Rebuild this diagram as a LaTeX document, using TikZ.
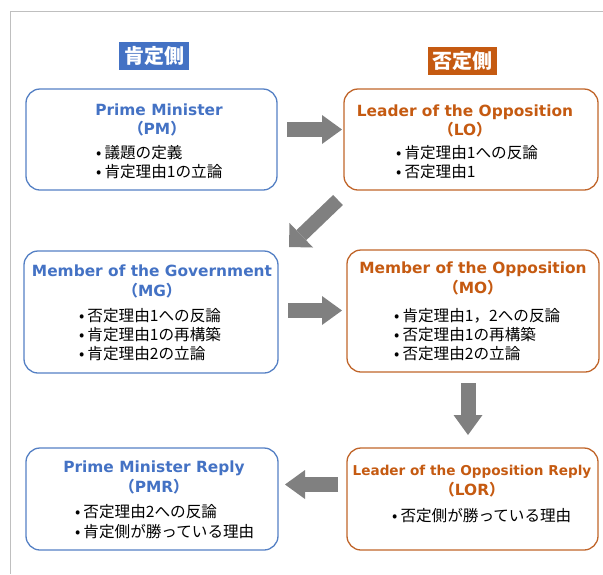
\documentclass[tikz,border=0pt]{standalone}
\usepackage{fontspec}
\setmainfont{Noto Sans CJK JP}
\newfontfamily\cjk{Noto Sans CJK JP}
\newfontfamily\ttl{DejaVu Sans}
\usetikzlibrary{arrows.meta}
\definecolor{gblue}{HTML}{4472C4}
\definecolor{gorange}{HTML}{C55A11}
\definecolor{bblue}{HTML}{5580C4}
\definecolor{borange}{HTML}{C0652A}
\definecolor{agray}{HTML}{808080}
\definecolor{fgray}{HTML}{BFBFBF}
\tikzset{
  box/.style={draw, rounded corners=14pt, line width=1.3pt, inner sep=0pt},
  bbox/.style={box, draw=bblue},
  obox/.style={box, draw=borange},
  ttlb/.style={anchor=base, inner sep=0pt, text=gblue, font=\ttl\bfseries\fontsize{15.4}{18}\selectfont},
  ttlo/.style={anchor=base, inner sep=0pt, text=gorange, font=\ttl\bfseries\fontsize{15.4}{18}\selectfont},
  itm/.style={anchor=base west, inner sep=0pt, font=\cjk\fontsize{15.6}{18}\selectfont},
  side/.style={inner sep=0pt, text=white, font=\cjk\bfseries\fontsize{20}{22}\selectfont, minimum height=28pt},
  blk/.style={agray, line width=15pt, -{Triangle[width=29pt,length=20pt,line width=0pt]}},
}
\newcommand{\bul}{•\hspace{3pt}}
\newcommand{\lp}{{\cjk （}}
\newcommand{\rp}{{\cjk ）}}
\begin{document}
\begin{tikzpicture}[x=1pt,y=-1pt]
\useasboundingbox (0,0) rectangle (603,574);
\draw[fgray, line width=1pt] (10,574) -- (10,11) -- (603,11);

% side labels
\node[side, fill=gblue, minimum width=70pt] (aff) at (154,56) {肯定側};
\node[side, fill=gorange, minimum width=69pt] (neg) at (462.5,61) {否定側};

% boxes
\node[bbox, minimum width=251pt, minimum height=101pt] (pm) at (151.5,139.5) {};
\node[obox, minimum width=254pt, minimum height=101pt] (lo) at (471,139.5) {};
\node[bbox, minimum width=254pt, minimum height=122pt] (mg) at (151,312) {};
\node[obox, minimum width=252pt, minimum height=122pt] (mo) at (473,311) {};
\node[bbox, minimum width=252pt, minimum height=102pt] (pmr) at (152,499) {};
\node[obox, minimum width=251pt, minimum height=102pt] (lor) at (472.5,499) {};

% PM
\node[ttlb] (pmt) at (159,115) {Prime Minister};
\node[ttlb] (pma) at (157,134) {\lp PM\rp};
\node[itm] (pm1) at (96,158) {\bul 議題の定義};
\node[itm] (pm2) at (96,177) {\bul 肯定理由1の立論};

% LO
\node[ttlo] (lot) at (465,116) {Leader of the Opposition};
\node[ttlo] (loa) at (465,135) {\lp LO\rp};
\node[itm] (lo1) at (396,158) {\bul 肯定理由1への反論};
\node[itm] (lo2) at (396,177) {\bul 否定理由1};

% MG
\node[ttlb] (mgt) at (152,276) {Member of the Government};
\node[ttlb] (mga) at (152,296) {\lp MG\rp};
\node[itm] (mg1) at (79,321) {\bul 否定理由1への反論};
\node[itm] (mg2) at (79,340) {\bul 肯定理由1の再構築};
\node[itm] (mg3) at (79,359) {\bul 肯定理由2の立論};

% MO
\node[ttlo] (mot) at (473,273) {Member of the Opposition};
\node[ttlo] (moa) at (473,293) {\lp MO\rp};
\node[itm] (mo1) at (394,321) {\bul 肯定理由1，2への反論};
\node[itm] (mo2) at (394,340) {\bul 否定理由1の再構築};
\node[itm] (mo3) at (394,359) {\bul 否定理由2の立論};

% PMR
\node[ttlb] (pmrt) at (154,472) {Prime Minister Reply};
\node[ttlb] (pmra) at (154,492) {\lp PMR\rp};
\node[itm] (pmr1) at (75,517) {\bul 否定理由2への反論};
\node[itm] (pmr2) at (75,537) {\bul 肯定側が勝っている理由};

% LOR
\node[ttlo, font=\ttl\bfseries\fontsize{13.6}{16}\selectfont] (lort) at (472,475) {Leader of the Opposition Reply};
\node[ttlo] (lora) at (472,495) {\lp LOR\rp};
\node[itm] (lor1) at (392,521) {\bul 否定側が勝っている理由};

% arrows
\coordinate (a1s) at (287,129.5); \coordinate (a1e) at (342,129.5);
\coordinate (a2s) at (338,200); \coordinate (a2e) at (289,247);
\coordinate (a3s) at (288,310.5); \coordinate (a3e) at (342,310.5);
\coordinate (a4s) at (468,383); \coordinate (a4e) at (468,435);
\coordinate (a5s) at (338,484.5); \coordinate (a5e) at (285,484.5);
\draw[blk] (a1s) -- (a1e);
\draw[agray, line width=14pt, -{Triangle[width=34pt,length=17pt,line width=0pt]}] (a2s) -- (a2e);
\draw[blk] (a3s) -- (a3e);
\draw[blk] (a4s) -- (a4e);
\draw[blk] (a5s) -- (a5e);
\end{tikzpicture}
\end{document}
